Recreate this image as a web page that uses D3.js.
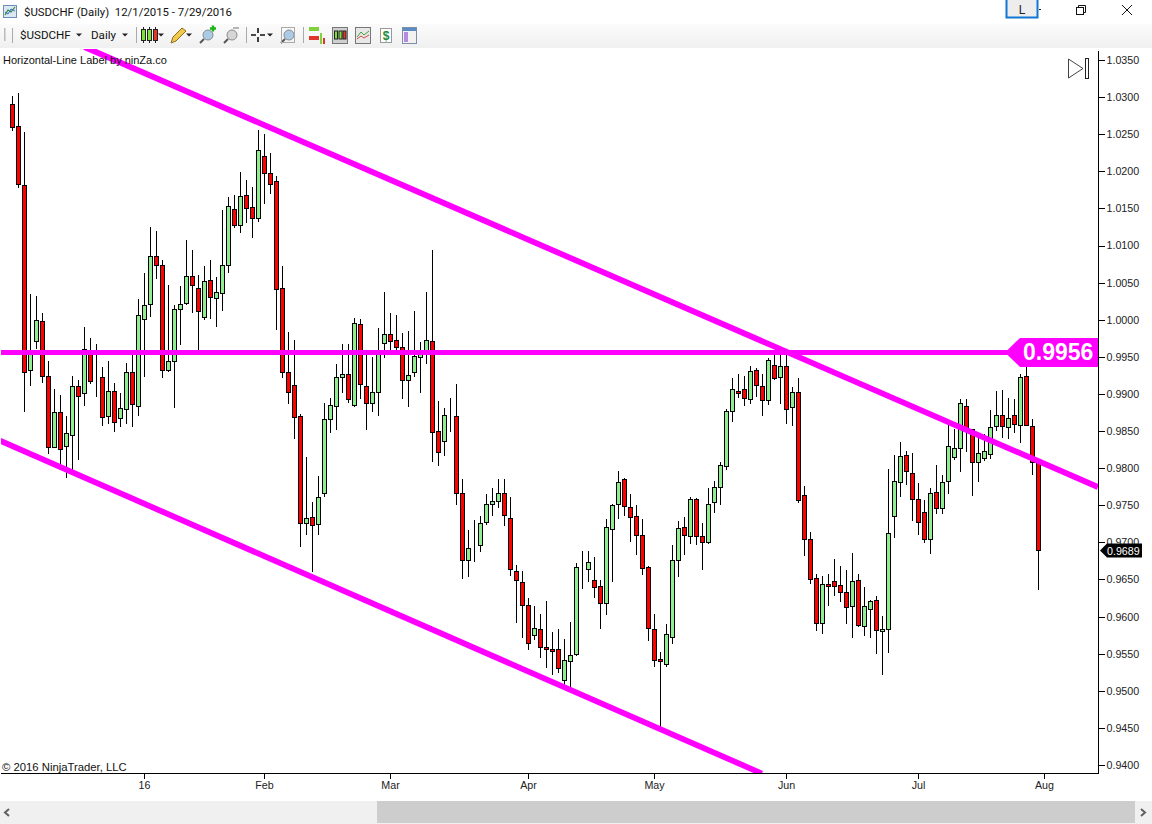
<!DOCTYPE html>
<html><head><meta charset="utf-8">
<script src="https://cdn.jsdelivr.net/npm/d3@7"></script>
<style>html,body{margin:0;padding:0;background:#fff;overflow:hidden}svg{display:block}text{font-family:"Liberation Sans",Arial,sans-serif}</style>
</head><body><div id="chart"></div>
<script>
const opens=[1.02903,1.02602,1.01811,.99318,.99704,.99978,.99237,.98276,.98752,.98289,.98442,.99102,.99008,.99583,.99224,.99224,.98698,.99035,.98671,.98792,.99291,.98833,1.00005,1.00207,1.00854,1.00733,.99318,.99439,1.0014,1.00221,1.00585,1.00423,1.00032,1.00531,1.00288,1.00356,1.00733,1.01488,1.01272,1.01676,1.01515,1.01367,1.02202,1.01973,1.01865,1.00423,.99291,.99116,.98698,.97256,.97337,.97243,.9766,.98658,.98833,.99224,.99264,.98847,.99938,.99102,.98873,.99021,.99682,.99803,.99722,.99628,.99183,.99291,.99493,.99525,.99709,.98496,.98361,.98712,.98698,.97661,.96758,.96974,.9696,.9727,.97512,.97553,.97661,.97324,.9661,.96461,.96151,.95747,.95828,.95585,.95559,.95559,.95141,.95397,.95491,.96668,.96637,.96488,.96408,.96178,.97176,.97513,.97849,.97472,.97351,.97095,.96664,.95828,.95424,.95356,.9572,.96758,.97202,.97081,.9758,.97081,.97,.97539,.97742,.98025,.98766,.99035,.99062,.98927,.99318,.99103,.98914,.99386,.99224,.99372,.9882,.99022,.97634,.97041,.96515,.95909,.96434,.96475,.96421,.96327,.96138,.96488,.95868,.96097,.96219,.95801,.95828,.97351,.97809,.98173,.9793,.9758,.97405,.97041,.97674,.97459,.97822,.98146,.98267,.98833,.98523,.98078,.98132,.98186,.98564,.98712,.9855,.98712,.98577,.99237,.98564,.98078];
const closes=[1.02593,1.01825,.99291,.99583,.99992,.99237,.98276,.98752,.98249,.98469,.99102,.98967,.99601,.9917,.99224,.9868,.99035,.98617,.98806,.99291,.9886,1.00059,1.00194,1.00854,1.00733,.99318,.99439,1.0014,1.00207,1.00585,1.00463,1.00113,1.00517,1.00302,1.00369,1.00733,1.01528,1.01272,1.01663,1.01501,1.01367,1.02283,1.01973,1.01825,1.0041,.99291,.99021,.98685,.97256,.97323,.97229,.97607,.98658,.98846,.99224,.99264,.98927,.99951,.99129,.98873,.99021,.99534,.99803,.99709,.99628,.99183,.9925,.99507,.99525,.99722,.98483,.98213,.98712,.98712,.97661,.96758,.9692,.96974,.97256,.97512,.97553,.97661,.97364,.96637,.96488,.96151,.95639,.95842,.95585,.95559,.95532,.95302,.9541,.95478,.96664,.96668,.96731,.96394,.96178,.97203,.97499,.97809,.97486,.97337,.97095,.9665,.95842,.9541,.95397,.95761,.96758,.97189,.97095,.9758,.97081,.97,.97512,.97742,.98038,.98766,.99062,.99008,.98941,.99305,.99116,.98914,.99453,.9921,.99372,.98793,.99022,.97566,.97041,.96502,.95909,.96434,.96407,.96407,.96327,.96124,.96475,.95882,.96138,.96205,.95814,.95828,.97122,.97822,.98159,.97957,.9758,.9727,.97041,.97661,.97459,.97809,.98294,.98267,.98874,.98523,.98078,.982,.98227,.9855,.98712,.98564,.98671,.98591,.99224,.98577,.98078,.96893];
const highs=[1.03028,1.03064,1.02543,1.00347,1.0032,1.001,.99457,.9908,.98986,.98716,.99255,.99201,.99915,.99767,.99686,.99376,.99457,.99156,.99026,.99426,.99547,1.00288,1.0063,1.0125,1.01209,1.00805,1.00481,1.00212,1.00468,1.01075,1.0094,1.00616,1.00737,1.00814,1.00589,1.01479,1.01667,1.01681,1.01991,1.01892,1.01789,1.0257,1.02503,1.02247,1.01946,1.00737,.99848,.9974,.98738,.98163,.97557,.97907,.98891,.98958,.99417,.99686,.99686,1.00032,1.0001,.99525,.99498,.99889,1.00387,1.001,1.00077,.9983,.99861,1.00131,.99709,1.00374,1.0094,.98914,.9882,.98954,.99143,.97863,.97176,.9731,.97364,.97661,.97741,.97863,.97863,.9762,.96704,.96623,.96259,.96156,.96035,.96223,.95801,.95833,.95711,.95936,.96722,.96884,.96884,.96803,.96502,.97324,.97526,.97975,.97876,.97665,.97513,.97324,.96691,.96044,.95532,.959,.96965,.97297,.97355,.9762,.97607,.97261,.97746,.9784,.98092,.98806,.99228,.99269,.99242,.99377,.9935,.99269,.99493,.99525,.99525,.99525,.99107,.99215,.9776,.9714,.96587,.96547,.96574,.96789,.96695,.96641,.9687,.96587,.96407,.96232,.96286,.96008,.97998,.98186,.98361,.9824,.98213,.97809,.9758,.97742,.98052,.97917,.98658,.98537,.98941,.98941,.98523,.98483,.98469,.98784,.99049,.99062,.98954,.98941,.99282,.99413,.98671,.98078];
const lows=[1.02548,1.0178,.98761,.99111,.9961,.99152,.98195,.98276,.97997,.97871,.97975,.9811,.98851,.99138,.98972,.98572,.98599,.98491,.98559,.98599,.98559,.98707,.99233,1.0005,1.00562,.99219,.993,.98815,.99664,1.00207,1.00095,.99592,1.00005,1.0001,.99906,1.00122,1.00643,1.0124,1.01173,1.01308,1.01106,1.01322,1.01564,1.01699,.99875,.99219,.98869,.98397,.96942,.97103,.96605,.97103,.97615,.98478,.98519,.99017,.98882,.98828,.98945,.98519,.98761,.98707,.99489,.9957,.99525,.98936,.98828,.99233,.99017,.99408,.98087,.98033,.98168,.98491,.97508,.96511,.96538,.9674,.96875,.97243,.9736,.97467,.97229,.9656,.95918,.95716,.95554,.95689,.95446,.95311,.95217,.95244,.95055,.95042,.95473,.96372,.9647,.96255,.95837,.96026,.9647,.97319,.9736,.97009,.96834,.96565,.95675,.95325,.94494,.95325,.95635,.96538,.96834,.96982,.96969,.96632,.96987,.974,.97508,.9798,.98626,.9895,.98842,.98869,.98963,.98707,.98856,.99197,.98869,.986,.98573,.97539,.96821,.96443,.9581,.9577,.96147,.96282,.96201,.95904,.95716,.95864,.95743,.95716,.955,.95217,.95514,.97063,.97616,.97782,.97292,.97104,.96996,.96848,.97387,.97387,.97656,.98114,.97953,.98222,.97638,.97818,.98105,.98128,.98505,.98411,.98397,.98478,.98343,.98577,.97921,.96367];
const priceTicks=[1.035,1.03,1.025,1.02,1.015,1.01,1.005,1.0,.995,.99,.985,.98,.975,.97,.965,.96,.955,.95,.945,.94];
const dateTickBars=[22,42,63,86,107,129,151,172];
const dateTickLabels=["16","Feb","Mar","Apr","May","Jun","Jul","Aug"];
const hLevel=[0.9956];
const upperChannelBars=[12,180.9];
const upperChannelPrices=[1.03675,0.97746];
const lowerChannelBars=[-2.08,124.9];
const lowerChannelPrices=[0.9837,0.93885];
const lastPrice=[0.9689];
const titleText="$USDCHF (Daily)  12/1/2015 - 7/29/2016";

const W=1152,H=824;
const svg=d3.select("#chart").append("svg").attr("width",W).attr("height",H);
const x=d3.scaleLinear().domain([0,171]).range([12.5,1038.5]);
const y=d3.scaleLinear().domain([1.035,0.94]).range([60,765]);
const PL=1,PR=1098.5,PT=49,PB=773.5;
svg.append("defs").append("clipPath").attr("id","plot").append("rect").attr("x",PL).attr("y",PT).attr("width",PR-PL).attr("height",PB-PT);
const snap=v=>Math.floor(v)+0.5;
const plot=svg.append("g").attr("clip-path","url(#plot)");
const bars=d3.range(opens.length);
const candles=plot.append("g");
candles.selectAll("line").data(bars).join("line")
 .attr("x1",i=>x(i)).attr("x2",i=>x(i)).attr("y1",i=>snap(y(highs[i]))).attr("y2",i=>snap(y(lows[i])))
 .attr("stroke","#000").attr("stroke-width",1).attr("shape-rendering","crispEdges");
candles.selectAll("rect").data(bars).join("rect")
 .attr("x",i=>x(i)-2).attr("width",4)
 .attr("y",i=>snap(y(Math.max(opens[i],closes[i]))))
 .attr("height",i=>snap(y(Math.min(opens[i],closes[i])))-snap(y(Math.max(opens[i],closes[i]))))
 .attr("fill",i=>closes[i]>opens[i]?"#90ee90":"#ff0000").attr("stroke","#000").attr("stroke-width",1).attr("shape-rendering","crispEdges");
const lineGen=d3.line().x(d=>x(d[0])).y(d=>y(d[1]));
const magenta="#ff00ff";
plot.append("path").attr("d",lineGen(upperChannelBars.map((b,i)=>[b,upperChannelPrices[i]]))).attr("fill","none").attr("stroke",magenta).attr("stroke-width",5.8);
plot.append("path").attr("d",lineGen(lowerChannelBars.map((b,i)=>[b,lowerChannelPrices[i]]))).attr("fill","none").attr("stroke",magenta).attr("stroke-width",5.8);
plot.append("line").attr("x1",PL).attr("x2",PR).attr("y1",y(hLevel[0])).attr("y2",y(hLevel[0])).attr("stroke",magenta).attr("stroke-width",5);
const ly=y(hLevel[0]);
svg.append("path").attr("d",`M1005,${ly} L1020,${ly-14.5} L1098,${ly-14.5} L1098,${ly+14.5} L1020,${ly+14.5} Z`).attr("fill",magenta);
svg.append("text").attr("x",1023).attr("y",ly+8).attr("fill","#fff").attr("font-size",23).attr("font-weight","bold").text(d3.format(".4f")(hLevel[0]));

// axes
const yAxis=d3.axisRight(y).tickValues(priceTicks).tickFormat(d3.format(".4f")).tickSize(6).tickPadding(2);
const ga=svg.append("g").attr("transform",`translate(${PR},0)`).call(yAxis);
ga.select(".domain").remove();
ga.selectAll("line").attr("stroke","#000").attr("shape-rendering","crispEdges");
ga.selectAll("text").attr("font-size",10.7).attr("fill","#222").style("font-family",'"Liberation Sans",Arial,sans-serif');
svg.append("line").attr("x1",PR).attr("x2",PR).attr("y1",PT+2).attr("y2",PB).attr("stroke","#000").attr("shape-rendering","crispEdges");
const xAxis=d3.axisBottom(x).tickValues(dateTickBars).tickFormat((d,i)=>dateTickLabels[i]).tickSize(5).tickPadding(3).offset(0);
const gb=svg.append("g").attr("transform",`translate(0,${PB})`).call(xAxis);
gb.select(".domain").remove();
gb.selectAll("line").attr("stroke","#000").attr("shape-rendering","crispEdges");
gb.selectAll("text").attr("font-size",10.7).attr("fill","#222").style("font-family",'"Liberation Sans",Arial,sans-serif');
svg.append("line").attr("x1",PL).attr("x2",PR).attr("y1",PB).attr("y2",PB).attr("stroke","#000").attr("shape-rendering","crispEdges");

// last-price marker
const py=y(lastPrice[0]);
svg.append("path").attr("d",`M1100,${py} L1107,${py-7} L1142,${py-7} L1142,${py+7} L1107,${py+7} Z`).attr("fill","#000");
svg.append("text").attr("x",1107).attr("y",py+4).attr("fill","#fff").attr("font-size",10.7).text(d3.format(".4f")(lastPrice[0]));

// chart texts
svg.append("text").attr("x",3).attr("y",64).attr("font-size",11).attr("fill","#111").text("Horizontal-Line Label by ninZa.co");
svg.append("text").attr("x",2).attr("y",771).attr("font-size",11.3).attr("fill","#111").text("© 2016 NinjaTrader, LLC");
svg.append("path").attr("d","M1068.5,59 L1083,68.5 L1068.5,78 Z").attr("fill","#fff").attr("stroke","#444");
svg.append("rect").attr("x",1085.5).attr("y",58.5).attr("width",3).attr("height",20).attr("fill","#fff").attr("stroke","#222");

// window chrome
const chrome=svg.append("g");
const grad=svg.select("defs").append("linearGradient").attr("id","tb").attr("x1",0).attr("x2",0).attr("y1",0).attr("y2",1);
grad.append("stop").attr("offset",0).attr("stop-color","#fbfbfb");
grad.append("stop").attr("offset",1).attr("stop-color","#f0f0f0");
chrome.append("rect").attr("x",0).attr("y",24).attr("width",W).attr("height",24).attr("fill","url(#tb)");
chrome.append("text").attr("x",24).attr("y",16).attr("font-size",11.4).attr("fill","#111").style("font-family","Roboto,sans-serif").style("white-space","pre").text(titleText);
// title icon
chrome.append("rect").attr("x",3.5).attr("y",5.5).attr("width",13).attr("height",12).attr("fill","#dbe7f5").attr("stroke","#6d8fb5");
chrome.append("path").attr("d","M5,15 L8,10 L11,12 L15,7").attr("fill","none").attr("stroke","#2d8a2d").attr("stroke-width",1.2);
chrome.append("path").attr("d","M5,12 L8,14 L11,9 L15,11").attr("fill","none").attr("stroke","#3a6fc4");
// L button
chrome.append("rect").attr("x",1006.5).attr("y",-2).attr("width",31).attr("height",19.5).attr("fill","#ededed").attr("stroke","#0f78d4").attr("stroke-width",2);
chrome.append("text").attr("x",1022).attr("y",14).attr("text-anchor","middle").attr("font-size",12).attr("fill","#222").text("L");
chrome.append("rect").attr("x",1039).attr("y",9).attr("width",2).attr("height",1).attr("fill","#222");
chrome.append("rect").attr("x",1076.5).attr("y",7.5).attr("width",7).attr("height",7).attr("fill","none").attr("stroke","#111");
chrome.append("path").attr("d","M1078.5,7.5 V5.5 H1085.5 V12.5 H1083.5").attr("fill","none").attr("stroke","#111");
chrome.append("path").attr("d","M1122,5 L1132,15 M1132,5 L1122,15").attr("stroke","#111").attr("fill","none");
// toolbar text
const tbf="Roboto,sans-serif";
chrome.append("text").attr("x",20).attr("y",39).attr("font-size",11.6).attr("fill","#111").style("font-family",tbf).text("$USDCHF");
chrome.append("text").attr("x",91).attr("y",39).attr("font-size",11.6).attr("fill","#111").style("font-family",tbf).text("Daily");
const arrow=(ax)=>chrome.append("path").attr("d",`M${ax-3},33.5 H${ax+3} L${ax},36.5 Z`).attr("fill","#222");
[79,125,161,189,270].forEach(arrow);
[136,246,303].forEach(sx=>chrome.append("rect").attr("x",sx).attr("y",27).attr("width",1).attr("height",16).attr("fill","#aaa"));
chrome.append("rect").attr("x",4).attr("y",28).attr("width",1.5).attr("height",13).attr("fill","#bbb");
chrome.append("rect").attr("x",12).attr("y",28).attr("width",1).attr("height",15).attr("fill","#aaa");
// candle icon
[[141.5,"#7fe03a"],[147.5,"#7fe03a"],[153.5,"#e8352a"]].forEach(c=>{
 chrome.append("line").attr("x1",c[0]+2).attr("x2",c[0]+2).attr("y1",27).attr("y2",43).attr("stroke","#222");
 chrome.append("rect").attr("x",c[0]).attr("y",29.5).attr("width",4).attr("height",11).attr("fill",c[1]).attr("stroke","#222");
 });
// pencil
chrome.append("path").attr("d","M171,43 L173,37 L182,28 L186,31 L176,41 Z").attr("fill","#f2c94c").attr("stroke","#8a6d1d");
// magnifiers
const mag=(mx,col)=>{chrome.append("circle").attr("cx",mx+8).attr("cy",35).attr("r",5).attr("fill",col).attr("stroke","#8b8b8b");chrome.append("line").attr("x1",mx+4).attr("y1",39).attr("x2",mx).attr("y2",43).attr("stroke","#555").attr("stroke-width",2);};
mag(200,"#a9cbe8");
chrome.append("path").attr("d","M210,28.5 H216 M213,25.5 V31.5").attr("stroke","#19b619").attr("stroke-width",2.4);
mag(224,"#d6d6d6");
chrome.append("path").attr("d","M233,28 H239").attr("stroke","#b5b5b5").attr("stroke-width",2);
chrome.append("path").attr("d","M251,35 H256 M260,35 H265 M258,28 V33 M258,37 V42").attr("stroke","#111").attr("stroke-width",1.6);
mag(281,"#a9cbe8");
chrome.append("rect").attr("x",281.5).attr("y",27.5).attr("width",13).attr("height",15).attr("fill","none").attr("stroke","#aaa");
// right-hand icons
chrome.append("rect").attr("x",309).attr("y",27).attr("width",10).attr("height",4).attr("fill","#7fd23a");
chrome.append("rect").attr("x",309).attr("y",36).attr("width",10).attr("height",4).attr("fill","#e0352a");
chrome.append("rect").attr("x",320).attr("y",33).attr("width",2).attr("height",11).attr("fill","#7fd23a");
chrome.append("rect").attr("x",323).attr("y",38).attr("width",2).attr("height",6).attr("fill","#e0352a");
chrome.append("rect").attr("x",332.5).attr("y",27.5).attr("width",15).attr("height",16).attr("fill","#cfcfcf").attr("stroke","#777");
[[334.5,"#7fe03a"],[339,"#7fe03a"],[343,"#e8352a"]].forEach(c=>chrome.append("rect").attr("x",c[0]).attr("y",31).attr("width",3).attr("height",8).attr("fill",c[1]).attr("stroke","#222"));
chrome.append("rect").attr("x",355.5).attr("y",27.5).attr("width",15).attr("height",16).attr("fill","#e7e7e7").attr("stroke","#777");
chrome.append("path").attr("d","M357,37 L361,32 L364,35 L369,31").attr("stroke","#3ca33c").attr("fill","none");
chrome.append("path").attr("d","M357,39 L361,36 L364,38 L369,35").attr("stroke","#d24a4a").attr("fill","none");
chrome.append("rect").attr("x",380.5).attr("y",28.5).attr("width",11).attr("height",14).attr("fill","#fff").attr("stroke","#999");
chrome.append("text").attr("x",386).attr("y",40).attr("text-anchor","middle").attr("font-size",12).attr("font-weight","bold").attr("fill","#1d8a3a").text("$");
chrome.append("rect").attr("x",402.5).attr("y",27.5).attr("width",14).attr("height",16).attr("fill","#f2f2f2").attr("stroke","#7c8fa6");
chrome.append("rect").attr("x",403).attr("y",28).attr("width",13).attr("height",3).attr("fill","#5a8bc4");
chrome.append("rect").attr("x",404).attr("y",32).attr("width",4).attr("height",10).attr("fill","#b48be0");
// scrollbar
chrome.append("rect").attr("x",0).attr("y",801).attr("width",W).attr("height",23).attr("fill","#f0f0f0");
chrome.append("rect").attr("x",377).attr("y",801).attr("width",758).attr("height",22).attr("fill","#cdcdcd");
chrome.append("path").attr("d","M9,809 L5,812.5 L9,816").attr("fill","none").attr("stroke","#606060").attr("stroke-width",2);
chrome.append("path").attr("d","M1141,809 L1145,812.5 L1141,816").attr("fill","none").attr("stroke","#606060").attr("stroke-width",2);
</script></body></html>
